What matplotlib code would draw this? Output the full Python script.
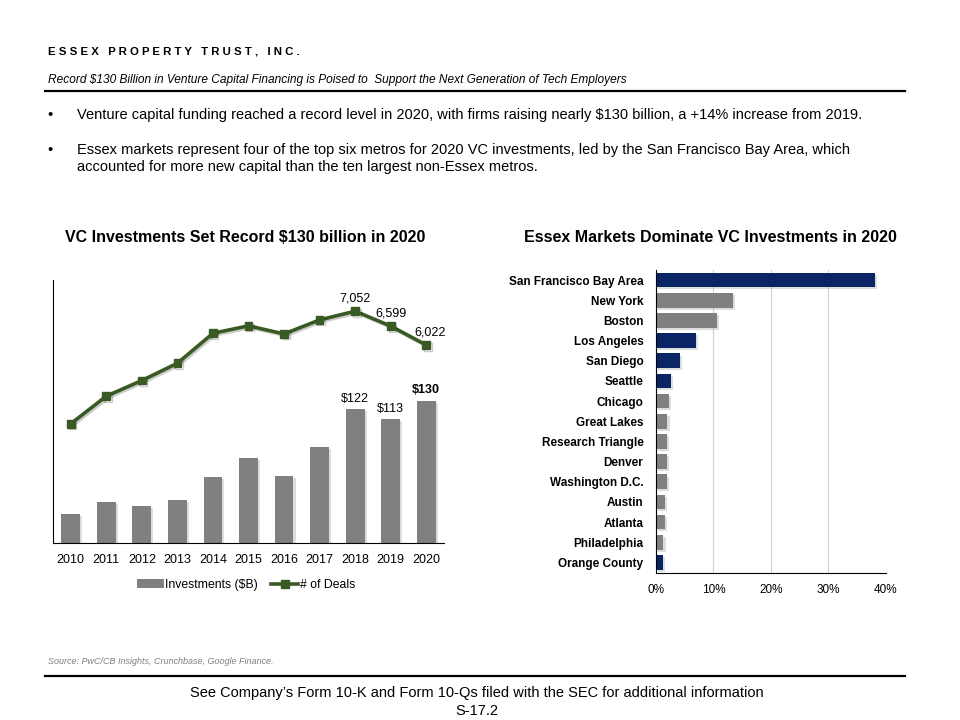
import matplotlib
matplotlib.use("Agg")
import matplotlib.pyplot as plt
import matplotlib.patheffects as pe
from matplotlib.lines import Line2D
from matplotlib.patches import Patch

plt.rcParams['font.family'] = ['Liberation Sans', 'DejaVu Sans']

# ---- data ----
years = ["2010", "2011", "2012", "2013", "2014", "2015", "2016", "2017", "2018", "2019", "2020"]
investments = [26.8, 37.7, 34.1, 39.6, 60.6, 77.9, 61.5, 88.0, 122, 113, 130]
deals = [3627, 4468, 4943, 5468, 6379, 6606, 6359, 6785, 7052, 6599, 6022]
inv_labels = {8: "$122", 9: "$113", 10: "$130"}
deal_labels = {8: "7,052", 9: "6,599", 10: "6,022"}

metros = ["San Francisco Bay Area", "New York", "Boston", "Los Angeles", "San Diego",
          "Seattle", "Chicago", "Great Lakes", "Research Triangle", "Denver",
          "Washington D.C.", "Austin", "Atlanta", "Philadelphia", "Orange County"]
share = [38.1, 13.4, 10.6, 7.0, 4.1, 2.6, 2.2, 2.0, 1.9, 1.9, 1.9, 1.5, 1.5, 1.3, 1.2]
essex = [True, False, False, True, True, True, False, False, False, False,
         False, False, False, False, True]
pct_ticks = [0, 10, 20, 30, 40]

GRAY = '#808080'
GREEN = '#3a5a24'
NAVY = '#0b2466'

fig = plt.figure(figsize=(9.6, 7.2), dpi=100)

def fx(px):
    return px / 960.0

def fy(py):
    return 1 - py / 720.0

# ---- header ----
fig.text(fx(48), fy(52), "E S S E X   P R O P E R T Y   T R U S T ,   I N C .",
         fontsize=8.2, fontweight='bold', va='center', ha='left')
fig.text(fx(48), fy(80), "Record $130 Billion in Venture Capital Financing is Poised to  Support the Next Generation of Tech Employers",
         fontsize=8.55, style='italic', va='center', ha='left')
fig.add_artist(Line2D([fx(45), fx(905)], [fy(91), fy(91)], color='black', lw=1.6))

fig.text(fx(47), fy(115), "•", fontsize=10.5, va='center', ha='left')
fig.text(fx(77), fy(115), "Venture capital funding reached a record level in 2020, with firms raising nearly $130 billion, a +14% increase from 2019.",
         fontsize=10.5, va='center', ha='left')
fig.text(fx(47), fy(150), "•", fontsize=10.5, va='center', ha='left')
fig.text(fx(77), fy(150), "Essex markets represent four of the top six metros for 2020 VC investments, led by the San Francisco Bay Area, which",
         fontsize=10.5, va='center', ha='left')
fig.text(fx(77), fy(167), "accounted for more new capital than the ten largest non-Essex metros.",
         fontsize=10.5, va='center', ha='left')

# ---- left chart ----
ax = fig.add_axes([fx(53), fy(543), fx(444) - fx(53), fy(280) - fy(543)])
x = list(range(len(years)))
shadow = [pe.SimplePatchShadow(offset=(1.5, -1.5), shadow_rgbFace='#a0a0a0', alpha=0.35), pe.Normal()]
bars = ax.bar(x, investments, width=0.53, color=GRAY, zorder=2)
for b in bars:
    b.set_path_effects(shadow)
ax.set_ylim(0, 240)
ax.set_xlim(-0.5, len(years) - 0.5)
ax.set_xticks(x)
ax.set_xticklabels(years, fontsize=9)
ax.tick_params(axis='x', length=0, pad=8)
ax.set_yticks([])
for s in ['top', 'right']:
    ax.spines[s].set_visible(False)
ax.spines['left'].set_color('black')
ax.spines['bottom'].set_color('black')
for i, lab in inv_labels.items():
    ax.text(i, investments[i] + 4, lab, ha='center', va='bottom', fontsize=9,
            fontweight='bold' if i == 10 else 'normal')

ax2 = ax.twinx()
ax2.plot(x, deals, color=GREEN, lw=2.6, marker='s', markersize=5.5, zorder=3,
         path_effects=[pe.SimpleLineShadow(offset=(1.2, -1.2), alpha=0.2), pe.Normal()])
ax2.set_ylim(0, 8000)
ax2.set_yticks([])
for s in ['top', 'right', 'left', 'bottom']:
    ax2.spines[s].set_visible(False)
for i, lab in deal_labels.items():
    dx = 0.1 if i == 10 else 0
    ax2.text(i + dx, deals[i] + 200, lab, ha='center', va='bottom', fontsize=9)

fig.text(fx(245), fy(238), "VC Investments Set Record $130 billion in 2020",
         fontsize=11.5, fontweight='bold', ha='center', va='center')

handles = [Patch(facecolor=GRAY, edgecolor='none'),
           Line2D([0], [0], color=GREEN, lw=2.6, marker='s', markersize=5.5)]
fig.legend(handles, ["Investments ($B)", "# of Deals"], loc='center',
           bbox_to_anchor=(fx(246), fy(585)), ncol=2, frameon=False, fontsize=8.8,
           handlelength=2.2, handletextpad=0.1, columnspacing=1.1)

# ---- right chart ----
axr = fig.add_axes([fx(656), fy(572.5), fx(885.7) - fx(656), fy(270) - fy(572.5)])
y = list(range(len(metros)))
cols = [NAVY if e else GRAY for e in essex]
hb = axr.barh(y, share, height=0.72, color=cols, zorder=2)
for b in hb:
    b.set_path_effects(shadow)
axr.set_ylim(len(metros) - 0.5, -0.5)
axr.set_xlim(0, 40)
axr.set_yticks(y)
axr.set_yticklabels(metros, fontsize=8.5, fontweight='bold')
axr.set_xticks(pct_ticks)
axr.set_xticklabels([f"{t}%" for t in pct_ticks], fontsize=8.5)
axr.tick_params(axis='both', length=0)
axr.tick_params(axis='x', pad=8)
axr.tick_params(axis='y', pad=9)
axr.grid(axis='x', color='#d0d0d0', lw=0.8, zorder=0)
for s in ['top', 'right']:
    axr.spines[s].set_visible(False)
axr.spines['left'].set_color('black')
axr.spines['bottom'].set_color('black')
axr.set_axisbelow(True)

fig.text(fx(710), fy(238), "Essex Markets Dominate VC Investments in 2020",
         fontsize=11.5, fontweight='bold', ha='center', va='center')

# ---- footer ----
fig.text(fx(48), fy(661), "Source: PwC/CB Insights, Crunchbase, Google Finance.",
         fontsize=6.5, style='italic', color='#808080', va='center', ha='left')
fig.add_artist(Line2D([fx(45), fx(905)], [fy(676), fy(676)], color='black', lw=1.6))
fig.text(fx(477), fy(693), "See Company’s Form 10-K and Form 10-Qs filed with the SEC for additional information",
         fontsize=10.5, ha='center', va='center')
fig.text(fx(477), fy(711), "S-17.2", fontsize=10.5, ha='center', va='center')

fig.savefig("out.png", dpi=100)
